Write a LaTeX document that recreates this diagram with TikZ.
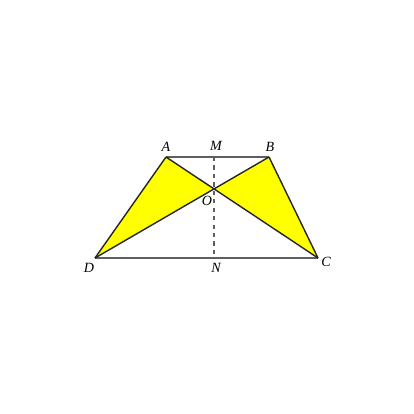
\documentclass[tikz,border=0pt]{standalone}
\usepackage{amsmath,amssymb}
\usepackage{xcolor}
\usepackage{fontspec}
\setmainfont{Liberation Serif}
\usetikzlibrary{calc,intersections}

\definecolor{fillyel}{RGB}{255,255,0}
\definecolor{edgegray}{RGB}{95,95,95}

\tikzset{
    lbl/.style={font=\normalsize\itshape, inner sep=1pt},
    edge/.style={line width=1pt, black!85},
    base/.style={line width=1pt, edgegray}
}

\begin{document}
\begin{tikzpicture}[x=0.025cm, y=-0.025cm]
\useasboundingbox (0,0) rectangle (414,414);

\coordinate (A) at (166,157);
\coordinate (B) at (269,157);
\coordinate (C) at (318,258);
\coordinate (D) at (95,258);
\coordinate (O) at (intersection of A--C and B--D);
\coordinate (M) at (A -| O);
\coordinate (N) at (D -| O);

% shaded triangles
\fill[fillyel] (A) -- (D) -- (O) -- cycle;
\fill[fillyel] (B) -- (C) -- (O) -- cycle;

\draw[base] (A) -- (B);
\draw[base] (D) -- (C);
\draw[dashed, edgegray, line width=0.8pt] (M) -- (N);
\draw[edge] (A) -- (D);
\draw[edge] (B) -- (C);
\draw[edge] (A) -- (C);
\draw[edge] (B) -- (D);

\node[lbl] (lA) at (166,147) {A};
\node[lbl] (lM) at (216,146) {M};
\node[lbl] (lB) at (270,147) {B};
\node[lbl] (lO) at (207,201) {O};
\node[lbl] (lD) at (89,268) {D};
\node[lbl] (lN) at (216,268) {N};
\node[lbl] (lC) at (326,262) {C};

\end{tikzpicture}
\end{document}
